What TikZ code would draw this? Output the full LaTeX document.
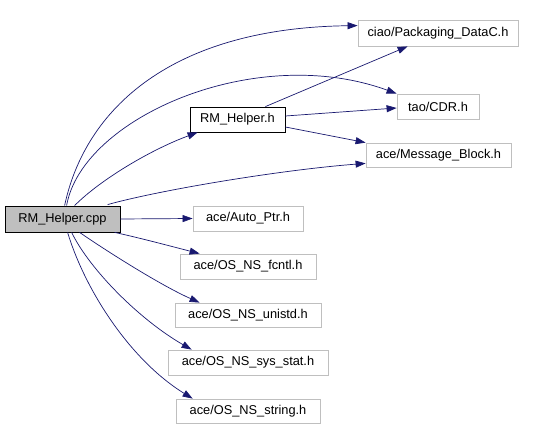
\documentclass[tikz,border=0pt]{standalone}
\usepackage{fontspec}
\setmainfont{Liberation Sans}
\usetikzlibrary{arrows.meta}
\definecolor{edgec}{HTML}{191970}
\definecolor{boxg}{HTML}{BFBFBF}
\begin{document}
\begin{tikzpicture}[x=1pt,y=-1pt,
  box/.style={draw=boxg,line width=0.8pt,inner sep=0pt,font=\fontsize{12.8}{15}\selectfont},
  mainbox/.style={box,draw=black},
  dep/.style={draw=edgec,line width=0.7pt,-{Triangle[length=10pt,width=7pt]}}]
\useasboundingbox (0,0) rectangle (549,427);
\fill[white] (0,0) rectangle (549,427);
\node[box,minimum width=160pt,minimum height=26pt] (pack) at (438,33) {ciao/Packaging\_DataC.h};
\node[box,minimum width=82pt,minimum height=25pt] (cdr) at (438,106.5) {tao/CDR.h};
\node[mainbox,minimum width=95pt,minimum height=25pt] (rmh) at (237.5,119.5) {RM\_Helper.h};
\node[box,minimum width=145pt,minimum height=24pt] (msg) at (438.5,155) {ace/Message\_Block.h};
\node[mainbox,fill=boxg,minimum width=115pt,minimum height=26pt] (cpp) at (62.5,219) {RM\_Helper.cpp};
\node[box,minimum width=110pt,minimum height=25pt] (auto) at (248,218.5) {ace/Auto\_Ptr.h};
\node[box,minimum width=136pt,minimum height=25pt] (fcntl) at (248,266.5) {ace/OS\_NS\_fcntl.h};
\node[box,minimum width=146pt,minimum height=24pt] (unistd) at (248,315) {ace/OS\_NS\_unistd.h};
\node[box,minimum width=160pt,minimum height=25pt] (sysstat) at (248,362.5) {ace/OS\_NS\_sys\_stat.h};
\node[box,minimum width=144pt,minimum height=24pt] (string) at (248,411) {ace/OS\_NS\_string.h};
% edges from cpp
\draw[dep] ([xshift=60pt]cpp.north west) .. controls (85,110) and (170,28) .. ([yshift=-6pt]pack.north west);
\draw[dep] ([xshift=62pt]cpp.north west) .. controls (82,118) and (255,42) .. (cdr.north west);
\draw[dep] ([xshift=70pt]cpp.north west) .. controls (100,180) and (150,150) .. ([xshift=8pt]rmh.south west);
\draw[dep] ([xshift=103pt,yshift=1pt]cpp.north west) .. controls (160,190) and (280,170) .. ([yshift=4pt]msg.south west);
\draw[dep] (cpp.east) -- (auto.west);
\draw[dep] ([xshift=110pt]cpp.south west) .. controls (140,238) and (170,246) .. ([xshift=20pt]fcntl.north west);
\draw[dep] ([xshift=75pt]cpp.south west) .. controls (105,250) and (160,285) .. ([xshift=25pt]unistd.north west);
\draw[dep] ([xshift=67pt]cpp.south west) .. controls (90,270) and (140,320) .. ([xshift=24pt]sysstat.north west);
\draw[dep] ([xshift=63pt]cpp.south west) .. controls (85,290) and (130,360) .. ([xshift=17pt]string.north west);
% edges from RM_Helper.h
\draw[dep] ([xshift=-20pt]rmh.north east) -- ([xshift=50pt]pack.south west);
\draw[dep] ([yshift=3.5pt]rmh.east) -- ([yshift=-1.5pt]cdr.west);
\draw[dep] ([yshift=-7.5pt]rmh.east) -- (msg.north west);
\end{tikzpicture}
\end{document}
